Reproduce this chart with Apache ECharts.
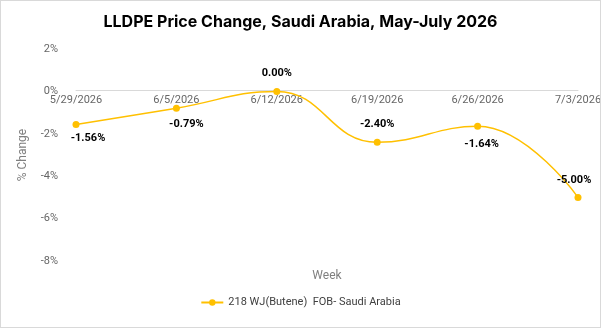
<!DOCTYPE html>
<html style="height: 100%">
    <head>
        <meta charset="utf-8">
    </head>
    <body style="height: 100%; margin: 0">
        <div id="container" style="width: 601px; height: 328px; box-sizing: border-box; border: 1px solid #d9d9d9"></div>

        <script type="text/javascript" src="https://cdn.jsdelivr.net/npm/echarts@6/dist/echarts.min.js"></script>
        <script type="text/javascript">
var weeks = ['5/29/2026', '6/5/2026', '6/12/2026', '6/19/2026', '6/26/2026', '7/3/2026'];
var changes = [-1.56, -0.79, 0.00, -2.40, -1.64, -5.00];
// where each value label sits relative to its point
var labelPlace = [
    {position: 'bottom', offset: [12, 0]},
    {position: 'bottom', offset: [10, 2]},
    {position: 'top', offset: [0, -4]},
    {position: 'top', offset: [0, -4]},
    {position: 'bottom', offset: [4, 4]},
    {position: 'top', offset: [-4, -3]}
];

var myChart = echarts.init(document.getElementById('container'));

// grid is 214px tall for 10 units, zero sits 2 units below top
var gridTop = 48, gridBottom = 66;
var zeroShift = -(328 - gridTop - gridBottom) * 8 / 10;

var option = {
    title: {
        text: 'LLDPE Price Change, Saudi Arabia, May-July 2026',
        left: 'center',
        top: 8,
        textStyle: {fontFamily: 'Inter', fontSize: 16, fontWeight: 'bold', color: '#000'}
    },
    legend: {
        bottom: 14,
        left: 'center',
        itemWidth: 22,
        itemHeight: 8,
        data: ['218 WJ(Butene)  FOB- Saudi Arabia'],
        textStyle: {fontFamily: 'Roboto', fontSize: 11, color: '#404040'}
    },
    grid: {left: 75, right: 22, top: gridTop, bottom: gridBottom, outerBoundsMode: 'none', containLabel: false},
    xAxis: {
        type: 'category',
        boundaryGap: false,
        data: weeks,
        offset: zeroShift,
        name: 'Week',
        nameLocation: 'middle',
        nameGap: 180,
        nameTextStyle: {fontFamily: 'Roboto', fontSize: 12, color: '#7f7f7f'},
        axisLine: {onZero: false, lineStyle: {color: '#d9d9d9'}},
        axisTick: {show: false},
        axisLabel: {fontFamily: 'Roboto', fontSize: 11, color: '#666', margin: 5}
    },
    yAxis: {
        type: 'value',
        min: -8,
        max: 2,
        interval: 2,
        name: '% Change',
        nameLocation: 'middle',
        nameGap: 47,
        nameTextStyle: {fontFamily: 'Roboto', fontSize: 12, color: '#7f7f7f'},
        splitLine: {show: false},
        axisLine: {show: false},
        axisTick: {show: false},
        axisLabel: {
            fontFamily: 'Roboto', fontSize: 11, color: '#666', margin: 18,
            formatter: function (v) { return v + '%'; }
        }
    },
    series: [
        {
            name: '218 WJ(Butene)  FOB- Saudi Arabia',
            type: 'line',
            smooth: 0.45,
            symbol: 'circle',
            symbolSize: 7,
            lineStyle: {color: '#FFC000', width: 1.5},
            itemStyle: {color: '#FFC000'},
            data: changes.map(function (v, i) {
                return {
                    value: v,
                    label: {
                        show: true,
                        position: labelPlace[i].position,
                        offset: labelPlace[i].offset,
                        fontFamily: 'Roboto',
                        fontSize: 11,
                        fontWeight: 'bold',
                        color: '#000',
                        formatter: function (p) { return p.value.toFixed(2) + '%'; }
                    }
                };
            })
        }
    ]
};

myChart.setOption(option);
        </script>
    </body>
</html>
